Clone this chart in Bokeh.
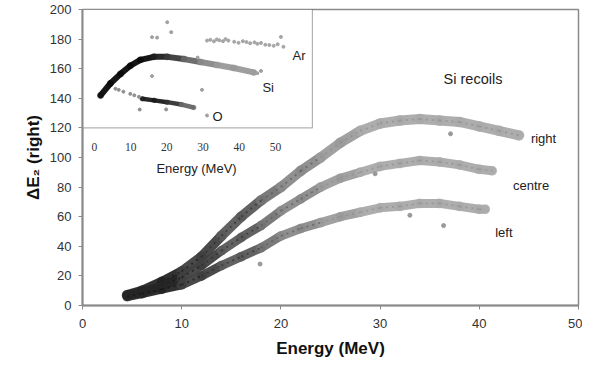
from bokeh.plotting import figure
from bokeh.models import (Range1d, BoxAnnotation, Label, ColumnDataSource,
                          SingleIntervalTicker)
from bokeh.transform import linear_cmap
from bokeh.embed import file_html
from bokeh.resources import INLINE

# ---------------- data ----------------
# main plot: Si recoils, three detector strips (centre-lines of the bands)
E_right = [4.5, 6, 8, 10, 12, 14, 16, 18, 20, 22, 24, 26, 28, 30, 32, 34, 36, 38, 40, 42, 44]
dE_right = [7, 10, 16, 23, 33, 47, 60, 71, 80, 91, 100, 110, 118, 123, 125, 126, 125, 124, 121, 118, 115]
E_centre = [4.5, 6, 8, 10, 12, 14, 16, 18, 20, 22, 24, 26, 28, 30, 32, 34, 36, 38, 40, 41.3]
dE_centre = [7, 9, 13, 19, 27, 37, 46, 54, 64, 72, 80, 86, 90, 94, 96, 98, 97, 95, 92, 91]
E_left = [4.5, 6, 8, 10, 12, 14, 16, 18, 20, 22, 24, 26, 28, 30, 32, 34, 36, 38, 40, 40.6]
dE_left = [6, 8, 11, 14, 20, 27, 33, 39, 47, 52, 56, 60, 63, 66, 67, 69, 69, 67, 65, 65]
out_E = [17.9, 36.4, 37.1, 29.5, 33.0]
out_dE = [28, 54, 116, 89, 61]

# inset: Si, O, Ar
Ei_si = [1.7, 4.4, 7.2, 9.9, 12.7, 16.4, 20.1, 24.7, 29.3, 33.9, 38.5, 44.0]
y_si = [142, 150, 156.5, 162, 166, 168, 168, 166.5, 164.5, 162.5, 160.5, 157.5]
Ei_o = [13.2, 16.5, 20.1, 24.0, 27.4]
y_o = [139.7, 138.6, 137.4, 135.8, 133.8]
Ei_o_sparse = [5.8, 6.7, 8.0, 9.9, 11.0, 12.3, 19.8, 12.5]
y_o_sparse = [146.5, 145.7, 144.5, 143.0, 142.0, 141.0, 132.5, 132.4]
Ei_ar = [31.1, 32.0, 33.0, 33.8, 34.5, 35.5, 36.2, 37.0, 38.6, 39.8, 41.0, 42.0, 43.0,
         44.2, 45.0, 46.0, 47.2, 48.3, 49.5, 50.6, 51.5, 52.2]
y_ar = [179.0, 179.5, 178.5, 179.8, 179.2, 178.6, 180.0, 179.0, 178.2, 177.5, 178.6, 178.0, 177.2,
        177.8, 176.8, 177.4, 176.2, 176.0, 175.5, 176.5, 181.5, 174.8]
Ei_out = [15.9, 17.3, 20.1, 21.2, 29.7, 31.1, 15.9, 28.5, 46.0, 45.0]
y_out = [181.3, 181.0, 191.4, 184.7, 145.7, 128.4, 155.0, 167.5, 158.5, 157.0]

inset_ticks = [0, 10, 20, 30, 40, 50]

FONT = "Liberation Sans"

p = figure(width=582, height=360, output_backend="svg", toolbar_location=None,
           x_range=Range1d(0, 50), y_range=Range1d(0, 200),
           min_border_left=82, min_border_right=4, min_border_top=9, min_border_bottom=55)
p.extra_x_ranges = {"inset": Range1d(-3.3, 133.7)}

p.grid.visible = False
p.background_fill_color = "white"
p.border_fill_color = "white"
p.outline_line_color = "#8a8a8a"
p.outline_line_width = 1.5

for ax in (p.xaxis[0], p.yaxis[0]):
    ax.axis_line_color = "#8a8a8a"
    ax.axis_line_width = 2
    ax.major_tick_line_color = "#8a8a8a"
    ax.major_tick_out = 4
    ax.major_tick_in = 0
    ax.minor_tick_line_color = None
    ax.major_label_text_font = FONT
    ax.major_label_text_font_size = "13px"
    ax.major_label_text_color = "#333333"
    ax.axis_label_text_font = FONT
    ax.axis_label_text_font_size = "17px"
    ax.axis_label_text_font_style = "bold"
    ax.axis_label_text_color = "#111111"

p.xaxis.ticker = SingleIntervalTicker(interval=10, num_minor_ticks=0)
p.yaxis.ticker = SingleIntervalTicker(interval=20, num_minor_ticks=0)
p.xaxis.axis_label = "Energy (MeV)"
p.yaxis.axis_label = "ΔE₂ (right)"
p.xaxis.major_label_standoff = 9
p.xaxis.axis_label_standoff = 8
p.yaxis.major_label_standoff = 7
p.yaxis.axis_label_standoff = 4

# inset box
p.add_layout(BoxAnnotation(left=-3.3, right=60.2, bottom=120, top=200, x_range_name="inset",
                           fill_color="white", fill_alpha=1.0, line_color="black",
                           line_width=1.2, level="underlay"))

main_pal = ["#262626", "#404040", "#5a5a5a", "#747474", "#8a8a8a", "#9c9c9c", "#aaaaaa"]


def band(E, dE, w, pal, low, high, x_range_name="default", dots=True):
    src = ColumnDataSource(dict(x0=E[:-1], x1=E[1:], y0=dE[:-1], y1=dE[1:]))
    cmap = linear_cmap("x0", pal, low, high)
    p.segment("x0", "y0", "x1", "y1", source=src, line_width=w, line_color=cmap,
              line_cap="round", line_alpha=0.95, x_range_name=x_range_name)
    pts = ColumnDataSource(dict(x=E, y=dE))
    p.scatter("x", "y", source=pts, size=w + 1, fill_color=linear_cmap("x", pal, low, high),
              line_color=None, fill_alpha=0.45, x_range_name=x_range_name)
    if dots:
        p.segment("x0", "y0", "x1", "y1", source=src, line_width=max(1.5, w / 5),
                  line_color=linear_cmap("x0", ["#111111", "#2a2a2a", "#555555", "#8a8a8a"], low, high),
                  line_alpha=0.6, line_dash="2 4", x_range_name=x_range_name)


band(E_right, dE_right, 10, main_pal, 6, 30)
band(E_centre, dE_centre, 9, main_pal, 6, 30)
band(E_left, dE_left, 9, main_pal, 6, 30)
p.scatter(out_E, out_dE, size=4, color="#999999")

# inset data
inset_pal = ["#0a0a0a", "#1e1e1e", "#3a3a3a", "#666666", "#888888", "#999999"]
band(Ei_si, y_si, 6, inset_pal, 8, 38, x_range_name="inset", dots=False)
band(Ei_o, y_o, 4.5, ["#1a1a1a", "#333333", "#666666"], 14, 28, x_range_name="inset", dots=False)
p.scatter(Ei_o_sparse, y_o_sparse, size=3, color="#8f8f8f", x_range_name="inset")
p.scatter(Ei_ar, y_ar, size=3, color="#a5a5a5", x_range_name="inset")
p.scatter(Ei_out, y_out, size=3, color="#a0a0a0", x_range_name="inset")

# inset x-axis tick labels and title
p.text(x=inset_ticks, y=[107.4] * len(inset_ticks), text=[str(t) for t in inset_ticks],
       x_range_name="inset", text_align="center", text_baseline="middle",
       text_font=FONT, text_font_size="11.5px", text_color="#333333")
p.add_layout(Label(x=28.2, y=92.6, x_range_name="inset", text="Energy (MeV)", text_align="center",
                   text_baseline="middle", text_font=FONT, text_font_size="13px",
                   text_color="#222222"))

# inset labels
for txt, xx, yy in (("Ar", 54.7, 169), ("Si", 46.4, 147), ("O", 32.6, 127.7)):
    p.add_layout(Label(x=xx, y=yy, x_range_name="inset", text=txt, text_align="left",
                       text_baseline="middle", text_font=FONT, text_font_size="13px",
                       text_color="#222222"))

# main labels
for txt, xx, yy, fs in (("Si recoils", 36.4, 153, "14.5px"), ("right", 45.2, 112.8, "13px"),
                        ("centre", 43.4, 81, "13px"), ("left", 41.6, 49, "13px")):
    p.add_layout(Label(x=xx, y=yy, text=txt, text_align="left", text_baseline="middle",
                       text_font=FONT, text_font_size=fs, text_color="#222222"))

open("out.html", "w").write(file_html(p, INLINE))
